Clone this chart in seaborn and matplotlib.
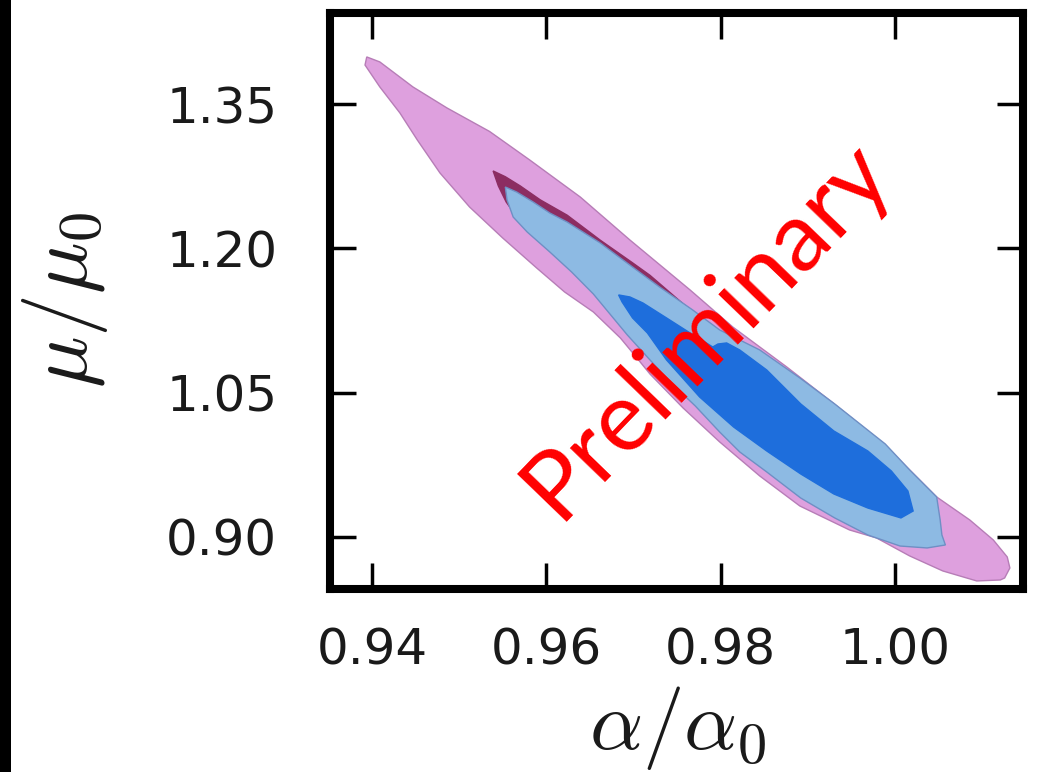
import matplotlib
matplotlib.use("Agg")
import matplotlib.pyplot as plt
import seaborn as sns
from matplotlib.patches import Rectangle

# ---------------- data (data coordinates) ----------------
# outer (2-sigma) contour, magenta data set
pink_outer_alpha = [0.9394, 0.9409, 0.9447, 0.9486, 0.9535, 0.9581, 0.9639, 0.9696,
                    0.9765, 0.9814, 0.9876, 0.9929, 0.9986, 1.0017, 1.0048, 1.0086,
                    1.0113, 1.0129, 1.0132, 1.0126, 1.0121, 1.0094, 1.0055, 1.0017,
                    0.9979, 0.9948, 0.9891, 0.9845, 0.9799, 0.9757, 0.9719, 0.9704,
                    0.9685, 0.9654, 0.9621, 0.9589, 0.9550, 0.9512, 0.9478, 0.9452,
                    0.9432, 0.9409, 0.9392]
pink_outer_mu = [1.3990, 1.3938, 1.3678, 1.3460, 1.3215, 1.2919, 1.2534, 1.2087,
                 1.1568, 1.1183, 1.0767, 1.0393, 0.9977, 0.9697, 0.9416, 0.9177,
                 0.8969, 0.8792, 0.8678, 0.8574, 0.8553, 0.8543, 0.8647, 0.8803,
                 0.8990, 0.9073, 0.9322, 0.9634, 0.9988, 1.0341, 1.0694, 1.0861,
                 1.1069, 1.1339, 1.1547, 1.1796, 1.2108, 1.2430, 1.2784, 1.3127,
                 1.3408, 1.3678, 1.3906]

# inner (1-sigma) contour, magenta data set
pink_inner_alpha = [0.9539, 0.9553, 0.9570, 0.9593, 0.9624, 0.9662, 0.9699, 0.9719,
                    0.9776, 0.9891, 0.9880, 0.9776, 0.9685, 0.9621, 0.9572, 0.9554,
                    0.9545]
pink_inner_mu = [1.2805, 1.2745, 1.2650, 1.2505, 1.2345, 1.2085, 1.1850, 1.1720,
                 1.1276, 1.0507, 1.0112, 1.0580, 1.1277, 1.1859, 1.2254, 1.2482,
                 1.2649]

# outer (2-sigma) contour, blue data set
blue_outer_alpha = [0.9553, 0.9566, 0.9585, 0.9604, 0.9624, 0.9662, 0.9685, 0.9730,
                    0.9768, 0.9799, 0.9845, 0.9891, 0.9931, 0.9989, 1.0017, 1.0048,
                    1.0052, 1.0054, 1.0058, 1.0037, 1.0006, 0.9969, 0.9931, 0.9892,
                    0.9853, 0.9822, 0.9799, 0.9771, 0.9742, 0.9693, 0.9654, 0.9629,
                    0.9604, 0.9578, 0.9562, 0.9555]
blue_outer_mu = [1.2638, 1.2586, 1.2482, 1.2368, 1.2274, 1.2056, 1.1900, 1.1599,
                 1.1360, 1.1152, 1.0944, 1.0653, 1.0383, 0.9967, 0.9697, 0.9416,
                 0.9177, 0.9021, 0.8917, 0.8886, 0.8906, 0.9021, 0.9198, 0.9405,
                 0.9676, 0.9884, 1.0091, 1.0362, 1.0611, 1.1100, 1.1526, 1.1755,
                 1.1963, 1.2171, 1.2326, 1.2503]

# inner (1-sigma) contour, blue data set
blue_inner_alpha = [0.9683, 0.9696, 0.9711, 0.9738, 0.9765, 0.9782, 0.9791, 0.9797,
                    0.9807, 0.9822, 0.9853, 0.9892, 0.9930, 0.9969, 0.9996, 1.0015,
                    1.0021, 1.0007, 0.9969, 0.9930, 0.9892, 0.9853, 0.9815, 0.9776,
                    0.9738, 0.9716, 0.9699, 0.9687]
blue_inner_mu = [1.1516, 1.1495, 1.1432, 1.1277, 1.1121, 1.1027, 1.0975, 1.1006,
                 1.1017, 1.0944, 1.0736, 1.0383, 1.0102, 0.9894, 0.9686, 0.9478,
                 0.9270, 0.9198, 0.9301, 0.9447, 0.9655, 0.9894, 1.0143, 1.0455,
                 1.0840, 1.1121, 1.1277, 1.1443]

x_ticks = [0.94, 0.96, 0.98, 1.00]
x_tick_labels = ["0.94", "0.96", "0.98", "1.00"]
y_ticks = [0.90, 1.05, 1.20, 1.35]
y_tick_labels = ["0.90", "1.05", "1.20", "1.35"]
x_limits = (0.93518, 1.01470)
y_limits = (0.8459, 1.4447)

x_label = r"$\alpha/\alpha_\mathsf{0}$"
y_label = r"$\mu/\mu_\mathsf{0}$"
watermark = "Preliminary"

# ---------------- style ----------------
sns.set_theme(style="ticks")
plt.rcParams["font.family"] = ["DejaVu Sans"]
plt.rcParams["mathtext.fontset"] = "cm"

fig = plt.figure(figsize=(10.38, 7.72), dpi=100)
fig.patch.set_facecolor("white")
ax = fig.add_axes([0.3179, 0.2370, 0.6676, 0.7462])
ax.set_facecolor("white")

layers = [
    (pink_outer_alpha, pink_outer_mu, "#DEA0DE", "#B77DB7"),
    (pink_inner_alpha, pink_inner_mu, "#8C2D62", "#8C2D62"),
    (blue_outer_alpha, blue_outer_mu, "#8DBAE3", "#6F8FC4"),
    (blue_inner_alpha, blue_inner_mu, "#1E6EDC", "#1E6EDC"),
]
for i, (xs, ys, fc, ec) in enumerate(layers):
    ax.fill(xs, ys, facecolor=fc, edgecolor=ec, linewidth=1.0, zorder=2 + i)

ax.set_xlim(*x_limits)
ax.set_ylim(*y_limits)
ax.set_xticks(x_ticks)
ax.set_xticklabels(x_tick_labels)
ax.set_yticks(y_ticks)
ax.set_yticklabels(y_tick_labels)

for s in ax.spines.values():
    s.set_visible(True)
    s.set_linewidth(5.8)
    s.set_color("black")
    s.set_zorder(10)

ax.tick_params(axis="both", which="major", direction="in", length=19, width=2.5,
               color="black", top=True, right=True, labelsize=36,
               labelcolor="#1a1a1a")
ax.tick_params(axis="x", pad=27)
ax.tick_params(axis="y", pad=38)

ax.set_xlabel(x_label, fontsize=60, color="#1a1a1a")
ax.xaxis.set_label_coords(0.502, -0.164)
ax.set_ylabel(y_label, fontsize=62, color="#1a1a1a")
ax.yaxis.set_label_coords(-0.318, 0.502)

ax.text(0.5426, 0.4497, watermark, transform=ax.transAxes, rotation=46,
        rotation_mode="anchor", ha="center", va="center", color="#FF0000",
        fontsize=70, family=["Lato", "DejaVu Sans"], zorder=20)

fig.add_artist(Rectangle((0, 0), 11 / 1038, 1, transform=fig.transFigure,
                         facecolor="black", edgecolor="none"))

fig.savefig("out.png", dpi=100)
